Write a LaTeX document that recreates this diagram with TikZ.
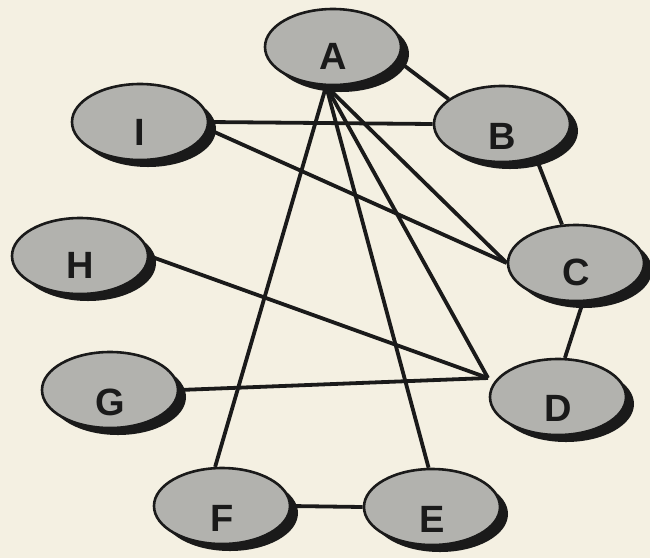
\documentclass[tikz,border=0pt]{standalone}
\usepackage{fontspec}
\setmainfont{Liberation Sans}
\usetikzlibrary{shapes.geometric,shadows}
\definecolor{paper}{RGB}{244,240,226}
\definecolor{nodegray}{RGB}{178,178,174}
\definecolor{ink}{RGB}{26,26,26}
\begin{document}
\begin{tikzpicture}[x=1pt,y=-1pt,
  vertex/.style={ellipse, draw=ink, line width=2.6pt, fill=nodegray,
    minimum width=136pt, minimum height=76pt, inner sep=0pt,
    drop shadow={shadow xshift=8pt, shadow yshift=-7pt, fill=ink, opacity=1}},
  lbl/.style={font=\bfseries\fontsize{38}{38}\selectfont, text=ink, inner sep=0pt},
  link/.style={draw=ink, line width=3.8pt}]
\fill[paper] (0,0) rectangle (650,558);
\useasboundingbox (0,0) rectangle (650,558);
% nodes
\node[vertex] (A) at (333,47) {};
\node[vertex] (B) at (502,124) {};
\node[vertex] (I) at (140,122) {};
\node[vertex] (H) at (80,256) {};
\node[vertex] (C) at (576,263) {};
\node[vertex] (G) at (110,390) {};
\node[vertex] (D) at (558,397) {};
\node[vertex] (F) at (222,506) {};
\node[vertex] (E) at (432,507) {};
\coordinate (dj) at (488,378);
% labels
\node[lbl] (Al) at ([yshift=-9pt]A.center) {A};
\node[lbl] (Bl) at ([yshift=-12pt]B.center) {B};
\node[lbl] (Il) at ([yshift=-10pt]I.center) {I};
\node[lbl] (Hl) at ([yshift=-9pt]H.center) {H};
\node[lbl] (Cl) at ([yshift=-9pt]C.center) {C};
\node[lbl] (Gl) at ([yshift=-12pt]G.center) {G};
\node[lbl] (Dl) at ([yshift=-11pt]D.center) {D};
\node[lbl] (Fl) at ([yshift=-12pt]F.center) {F};
\node[lbl] (El) at ([yshift=-12pt]E.center) {E};
% edges
\draw[link] (A.-12) -- (B.155);
\draw[link] (I.east) -- (B.west);
\draw[link] (I.-6) -- (C.west);
\draw[link] (A.260) -- (C.west);
\draw[link] (A.260) -- (dj);
\draw[link] (A.260) -- (E.95);
\draw[link] (A.260) -- (F.100);
\draw[link] (B.-45) -- (C.110);
\draw[link] (C.-80) -- (D.80);
\draw[link] (H.east) -- (dj);
\draw[link] (G.east) -- (dj);
\draw[link] (F.east) -- (E.west);
\end{tikzpicture}
\end{document}
